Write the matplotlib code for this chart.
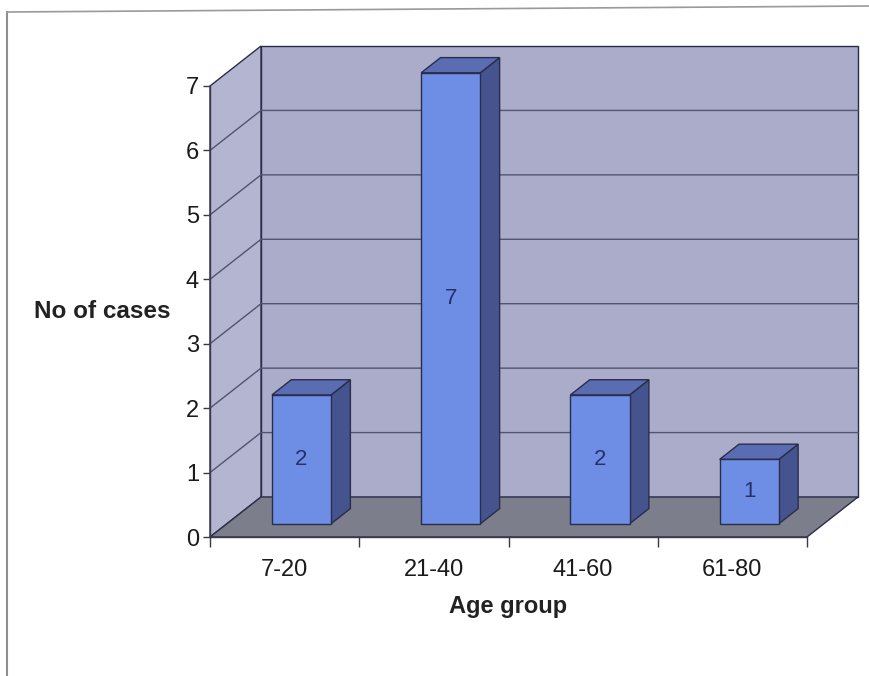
import matplotlib
matplotlib.use("Agg")
import matplotlib.pyplot as plt
from matplotlib.patches import Polygon
from matplotlib.lines import Line2D
from matplotlib.transforms import IdentityTransform

# ---- data ----
categories = ["7-20", "21-40", "41-60", "61-80"]
cases = [2, 7, 2, 1]
y_ticks = [0, 1, 2, 3, 4, 5, 6, 7]
x_title = "Age group"
y_title = "No of cases"

plt.rcParams['font.family'] = ['Liberation Sans', 'DejaVu Sans']

W, H = 870, 676
fig = plt.figure(figsize=(W / 100, H / 100), dpi=100)
fig.patch.set_facecolor("white")

# front plane of the 3-D box (pixel positions)
L, R, B, T = 210, 807, 537, 86
ax = fig.add_axes([L / W, 1 - B / H, (R - L) / W, (B - T) / H])
ax.set_xlim(-0.5, len(categories) - 0.5)
ax.set_ylim(0, max(y_ticks))
ax.patch.set_visible(False)

DX, DY = 51, 40          # depth offset in display pixels
ID = IdentityTransform()


def P(x, y, d=0.0):
    px, py = ax.transData.transform((x, y))
    return (px + DX * d, py + DY * d)


def poly(pts, fc, ec="#2a2d4a", lw=1.0, z=1):
    ax.add_patch(Polygon(pts, closed=True, facecolor=fc, edgecolor=ec,
                         linewidth=lw, transform=ID, clip_on=False, zorder=z))


x0, x1 = -0.5, len(categories) - 0.5
ymax = max(y_ticks)

# walls and floor
poly([P(x0, 0, 1), P(x0, ymax, 1), P(x1, ymax, 1), P(x1, 0, 1)], "#aaacca", z=0.5)
poly([P(x0, 0, 0), P(x0, ymax, 0), P(x0, ymax, 1), P(x0, 0, 1)], "#b4b6d1", z=0.5)
poly([P(x0, 0, 0), P(x1, 0, 0), P(x1, 0, 1), P(x0, 0, 1)], "#7d7e8b", z=0.6)

# gridlines
for yv in y_ticks[1:-1]:
    a, b, c = P(x0, yv, 0), P(x0, yv, 1), P(x1, yv, 1)
    ax.add_line(Line2D([a[0], b[0], c[0]], [a[1], b[1], c[1]], color="#50546f",
                       linewidth=1.0, transform=ID, clip_on=False, zorder=0.7))

# bars
hw = 0.198
d0, d1 = 0.33, 0.71
for i, v in enumerate(cases):
    xl, xr = i - hw, i + hw
    # side face
    poly([P(xr, 0, d0), P(xr, v, d0), P(xr, v, d1), P(xr, 0, d1)], "#45538f", z=2)
    # top face
    poly([P(xl, v, d0), P(xr, v, d0), P(xr, v, d1), P(xl, v, d1)], "#5a6db3", z=2)
    # front face
    poly([P(xl, 0, d0), P(xr, 0, d0), P(xr, v, d0), P(xl, v, d0)], "#6e8de4", z=2.1)
    cx, cy = P(i, v / 2, d0)
    ax.text(cx, cy, str(v), transform=ID, ha="center", va="center",
            fontsize=16, color="#27306a", zorder=3)

# axes styling
for s in ["top", "right"]:
    ax.spines[s].set_visible(False)
for s in ["left", "bottom"]:
    ax.spines[s].set_color("#3a3a4a")
    ax.spines[s].set_linewidth(1.0)

ax.set_yticks(y_ticks)
ax.set_yticklabels([str(t) for t in y_ticks])
ax.tick_params(axis="y", direction="out", length=5, width=1, color="#3a3a4a",
               labelsize=17, pad=3, labelcolor="#1a1a1a")

ax.set_xticks([i - 0.5 for i in range(len(categories) + 1)])
ax.set_xticklabels([])
ax.set_xticks(range(len(categories)), minor=True)
ax.set_xticklabels(categories, minor=True)
ax.tick_params(axis="x", which="major", direction="out", length=7, width=1,
               color="#3a3a4a")
ax.tick_params(axis="x", which="minor", length=0, labelsize=17, pad=16,
               labelcolor="#1a1a1a")

ax.set_xlabel(x_title, fontsize=17, fontweight="bold", color="#222222")
ax.xaxis.set_label_coords((508 - L) / (R - L), (B - 606) / (B - T))
ax.xaxis.label.set_va("center")
ax.set_ylabel(y_title, fontsize=17.5, fontweight="bold", color="#222222",
              rotation=0)
ax.yaxis.set_label_coords((102 - L) / (R - L), (B - 312) / (B - T))
ax.yaxis.label.set_va("center")
ax.yaxis.label.set_ha("center")

# outer frame lines (chart border)
fig.add_artist(Line2D([7 / W, 7 / W], [0, 1 - 12 / H], color="#8f8f8f",
                      linewidth=1.5, transform=fig.transFigure))
fig.add_artist(Line2D([7 / W, 1], [1 - 12 / H, 1 - 6 / H], color="#9a9a9a",
                      linewidth=1.2, transform=fig.transFigure))

fig.savefig("out.png", dpi=100)
